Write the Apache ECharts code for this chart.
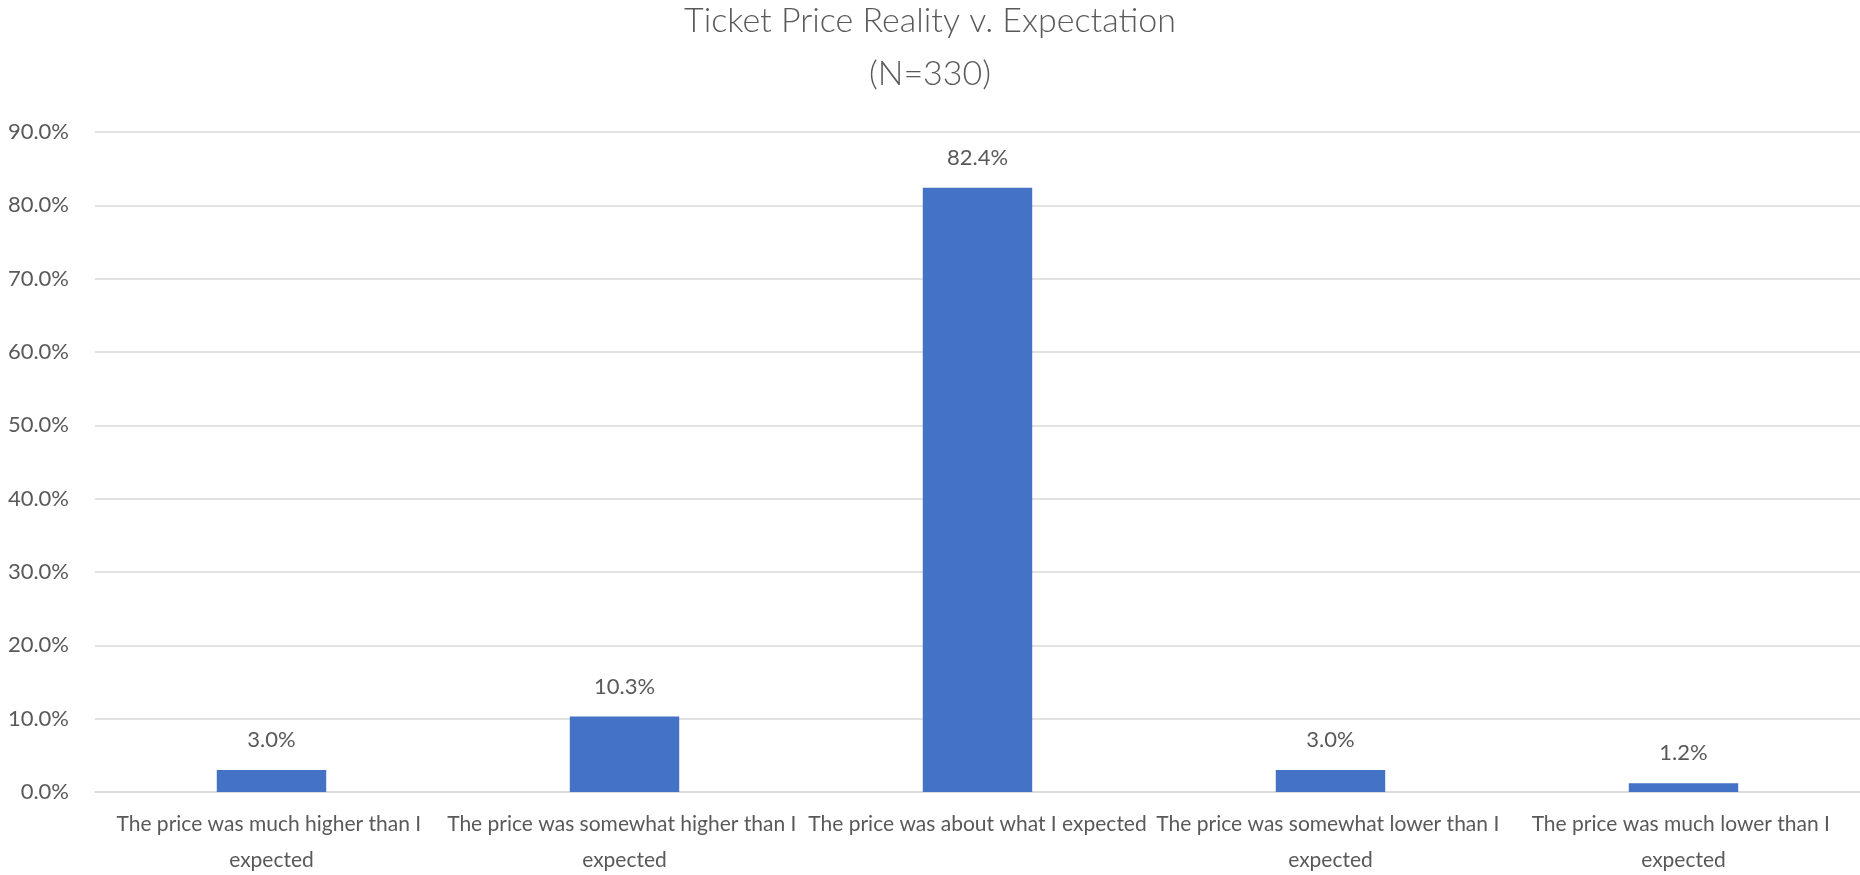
<!DOCTYPE html>
<html>
<head>
<meta charset="utf-8">
<script src="https://cdn.jsdelivr.net/npm/echarts@6/dist/echarts.min.js"></script>
<style>
html,body{margin:0;padding:0;background:#fff;}
#chart{width:1860px;height:875px;}
</style>
</head>
<body>
<div id="chart"></div>
<script>
const titleText = "Ticket Price Reality v. Expectation\n(N=330)";
const categories = [
  "The price was much higher than I expected",
  "The price was somewhat higher than I expected",
  "The price was about what I expected",
  "The price was somewhat lower than I expected",
  "The price was much lower than I expected"
];
const values = [3.0, 10.3, 82.4, 3.0, 1.2];
const yTicks = { min: 0, max: 90, interval: 10 };

const font = "Lato, 'Open Sans', sans-serif";
const textColor = "#595959";

const chart = echarts.init(document.getElementById('chart'), null, { renderer: 'canvas' });
chart.setOption({
  backgroundColor: '#ffffff',
  animation: false,
  title: {
    text: titleText,
    left: 'center',
    top: -10,
    textStyle: { fontFamily: font, fontWeight: 300, fontSize: 34, color: textColor, lineHeight: 53 }
  },
  grid: { left: 95, right: 0, top: 132, bottom: 83, containLabel: false, outerBoundsMode: 'none' },
  xAxis: {
    type: 'category',
    data: categories,
    axisLine: { show: true, lineStyle: { color: '#d9d9d9', width: 1.5 } },
    axisTick: { show: false },
    axisLabel: {
      interval: 0,
      fontFamily: font,
      fontSize: 21,
      color: textColor,
      lineHeight: 36,
      margin: 14,
      width: 385,
      overflow: 'break'
    }
  },
  yAxis: {
    type: 'value',
    min: yTicks.min,
    max: yTicks.max,
    interval: yTicks.interval,
    axisLine: { show: false },
    axisTick: { show: false },
    splitLine: { lineStyle: { color: '#d9d9d9', width: 1.5 } },
    axisLabel: {
      fontFamily: font,
      fontSize: 22,
      color: textColor,
      margin: 26,
      formatter: v => v.toFixed(1) + '%'
    }
  },
  series: [{
    type: 'bar',
    data: values,
    barWidth: '31%',
    itemStyle: { color: '#4472C4' },
    label: {
      show: true,
      position: 'top',
      distance: 19,
      fontFamily: font,
      fontSize: 22,
      color: textColor,
      formatter: p => p.value.toFixed(1) + '%'
    }
  }]
});
</script>
</body>
</html>
